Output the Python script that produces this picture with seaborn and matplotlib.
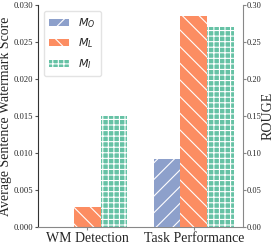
import pandas as pd
import matplotlib
matplotlib.use("Agg")
import matplotlib.pyplot as plt
import matplotlib.patches as mpatches
import seaborn as sns

tasks = ["WM Detection", "Task Performance"]
models = ["$M_O$", "$M_L$", "$M_I$"]
wm_scores = [0.0, 0.0027, 0.0150]
rouge_scores = [0.092, 0.285, 0.270]
colors = ["#8da0cb", "#fc8d62", "#66c2a5"]
hatches = ["//", "\\\\", "+++"]

sns.set_style("ticks")
plt.rcParams["font.family"] = ["Liberation Serif", "DejaVu Serif"]
plt.rcParams["mathtext.fontset"] = "dejavusans"
plt.rcParams["hatch.linewidth"] = 0.8

df_wm = pd.DataFrame({"task": tasks[0], "model": models, "value": wm_scores})
df_rg = pd.DataFrame({"task": tasks[1], "model": models, "value": rouge_scores})

fig = plt.figure(figsize=(2.74, 2.45), dpi=100)
ax = fig.add_axes([0.139, 0.0735, 0.748, 0.906])
ax2 = ax.twinx()

for a, d in [(ax, df_wm), (ax2, df_rg)]:
    sns.barplot(data=d, x="task", y="value", hue="model", order=tasks,
                hue_order=models, palette=colors, width=0.75, saturation=1,
                edgecolor="white", linewidth=0, legend=False, ax=a)
    for cont, h in zip(a.containers, hatches):
        for p in cont.patches:
            p.set_hatch(h)

ax.set_xlim(-0.4625, 1.4625)
ax.set_ylim(0, 0.030)
ax2.set_ylim(0, 0.30)
ax.set_yticks([0, 0.005, 0.010, 0.015, 0.020, 0.025, 0.030])
ax2.set_yticks([0, 0.05, 0.10, 0.15, 0.20, 0.25, 0.30])
ax.set_xlabel("")
ax2.set_xlabel("")
ax.set_ylabel("Average Sentence Watermark Score", fontsize=10, labelpad=1)
ax2.set_ylabel("ROUGE", fontsize=10)
ax2.yaxis.set_label_coords(1.088, 0.5)
ax.tick_params(axis="y", labelsize=6.2, length=2.5, pad=1, color="#555555")
ax2.tick_params(axis="y", labelsize=6, length=2, pad=0.8, color="#888888")
ax.tick_params(axis="x", labelsize=10, length=2.5, pad=1, color="#888888")

for s in ["top", "right"]:
    ax.spines[s].set_visible(False)
for s in ["top", "left", "bottom"]:
    ax2.spines[s].set_visible(False)
ax.spines["left"].set_color("#333333")
ax.spines["bottom"].set_color("#888888")
ax2.spines["right"].set_color("#888888")

handles = [mpatches.Patch(facecolor=c, hatch=h, edgecolor="white", linewidth=0, label=m)
           for c, h, m in zip(colors, hatches, models)]
ax.legend(handles=handles, loc="upper left", fontsize=8, handlelength=1.8,
          handleheight=0.6, borderpad=0.5, labelspacing=0.6, frameon=True,
          fancybox=True, edgecolor="#dddddd", bbox_to_anchor=(0.0, 1.0))

fig.savefig("out.png", dpi=100)
